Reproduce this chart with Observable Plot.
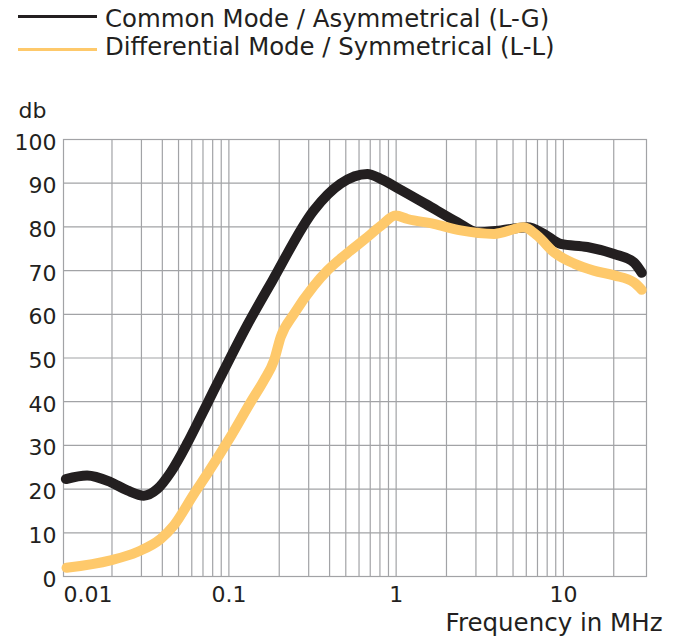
<!DOCTYPE html>
<html>
<head>
<meta charset="utf-8">
<script src="https://cdn.jsdelivr.net/npm/d3@7"></script>
<script src="https://cdn.jsdelivr.net/npm/@observablehq/plot@0.6"></script>
<style>
  html, body { margin: 0; padding: 0; background: #ffffff; }
  body { width: 680px; height: 637px; overflow: hidden; font-family: "DejaVu Sans", sans-serif; color: #231f20; }
  #legend { position: relative; height: 64px; }
  .sw { position: absolute; left: 18px; width: 79px; height: 3px; }
  .lt { position: absolute; left: 105px; font-size: 24.4px; line-height: 28px; white-space: nowrap; color: #231f20; }
  #chart svg { display: block; }
</style>
</head>
<body>
<div id="legend"></div>
<div id="chart"></div>
<script>
// ---- data ----
const seriesNames = ["Common Mode / Asymmetrical (L-G)", "Differential Mode / Symmetrical (L-L)"];
const seriesColors = ["#231f20", "#fec96b"];

const cmFreq = [0.0106, 0.0142, 0.0196, 0.0247, 0.031, 0.0373, 0.0448, 0.0564, 0.0677, 0.0813, 0.129, 0.182, 0.322, 0.466, 0.673, 0.808, 1.02, 1.61, 2.32, 3.06, 4.22, 6.09, 7.66, 9.63, 13.9, 20.1, 26.4, 29.4];
const cmDb   = [22.3, 23.1, 21.6, 19.7, 18.5, 20.0, 23.8, 30.5, 36.5, 42.6, 57.6, 67.7, 83.8, 89.9, 92.1, 91.0, 88.9, 84.6, 81.1, 78.8, 79.2, 79.9, 78.4, 76.1, 75.4, 73.8, 71.9, 69.5];

const dmFreq = [0.0107, 0.0196, 0.0283, 0.0391, 0.0469, 0.0618, 0.0743, 0.1024, 0.135, 0.162, 0.186, 0.204, 0.245, 0.322, 0.388, 0.511, 0.65, 0.808, 0.993, 1.17, 1.68, 2.43, 3.85, 5.81, 6.98, 8.79, 11.6, 15.2, 20.1, 26.4, 29.4];
const dmDb   = [2.0, 3.7, 5.6, 8.6, 11.7, 18.9, 23.5, 32.0, 39.9, 44.9, 49.4, 54.8, 60.1, 66.5, 70.0, 74.0, 77.2, 80.2, 82.6, 81.8, 80.7, 79.2, 78.4, 79.9, 78.0, 74.2, 71.6, 70.0, 68.9, 67.3, 65.6];

const xDomain = [0.01026, 31.4];
const xTicks = [0.1, 1, 10];
const xTickLabels = ["0.1", "1", "10"];
const xFirstLabel = "0.01";
const xLastLabel = "30";
const xGrid = [0.02, 0.03, 0.04, 0.05, 0.06, 0.07, 0.08, 0.09, 0.1, 0.2, 0.3, 0.4, 0.5, 0.6, 0.7, 0.8, 0.9, 1, 2, 3, 4, 5, 6, 7, 8, 9, 10, 20];
const yTicks = [0, 10, 20, 30, 40, 50, 60, 70, 80, 90, 100];
const yGrid = [10, 20, 30, 40, 50, 60, 70, 80, 90];
const yLabel = "db";
const xLabel = "Frequency in MHz";

// ---- legend ----
const legend = document.getElementById("legend");
const swTops = [14.5, 47.8];
const txtTops = [5, 32.7];
seriesNames.forEach((name, i) => {
  const sw = document.createElement("div");
  sw.className = "sw";
  sw.style.top = swTops[i] + "px";
  sw.style.background = seriesColors[i];
  legend.appendChild(sw);
  const t = document.createElement("div");
  t.className = "lt";
  t.style.top = txtTops[i] + "px";
  t.textContent = name;
  legend.appendChild(t);
});

// ---- chart ----
const cm = cmFreq.map((f, i) => ({f, db: cmDb[i]}));
const dm = dmFreq.map((f, i) => ({f, db: dmDb[i]}));
const gridColor = "#a2a3a6";
const textColor = "#231f20";

const chart = Plot.plot({
  width: 680,
  height: 573,
  marginTop: 75,
  marginBottom: 61,
  marginLeft: 63,
  marginRight: 34,
  style: {fontFamily: "DejaVu Sans, sans-serif", fontSize: "22px", color: textColor, background: "#ffffff"},
  x: {type: "log", domain: xDomain},
  y: {domain: [0, 100]},
  marks: [
    Plot.ruleX(xGrid, {stroke: gridColor, strokeWidth: 1.2}),
    Plot.ruleY(yGrid, {stroke: gridColor, strokeWidth: 1.2}),
    Plot.frame({stroke: gridColor, strokeWidth: 1.2}),
    Plot.axisY(yTicks, {tickSize: 0, tickPadding: 7, fontSize: 22, fill: textColor, label: null, dy: 3, tickFormat: d => String(d)}),
    Plot.axisX(xTicks, {tickSize: 0, tickPadding: 10, fontSize: 22, fill: textColor, label: null, tickFormat: d => xTickLabels[xTicks.indexOf(d)]}),
    Plot.axisX([xDomain[0]], {tickSize: 0, tickPadding: 10, fontSize: 22, fill: textColor, label: null, textAnchor: "start", tickFormat: () => xFirstLabel}),
    Plot.axisX([xDomain[1]], {tickSize: 0, tickPadding: 10, fontSize: 22, fill: textColor, label: null, tickFormat: () => xLastLabel}),
    Plot.line(cm, {x: "f", y: "db", stroke: seriesColors[0], strokeWidth: 10, curve: "monotone-x", strokeLinecap: "round", strokeLinejoin: "round"}),
    Plot.line(dm, {x: "f", y: "db", stroke: seriesColors[1], strokeWidth: 10, curve: "monotone-x", strokeLinecap: "round", strokeLinejoin: "round"}),
    Plot.text([yLabel], {frameAnchor: "top-left", dx: -45, dy: -22, textAnchor: "start", lineAnchor: "bottom", fontSize: 22, fill: textColor}),
    Plot.text([xLabel], {frameAnchor: "bottom-right", dx: 16, dy: 54, textAnchor: "end", lineAnchor: "bottom", fontSize: 24.5, fill: textColor})
  ]
});
document.getElementById("chart").appendChild(chart);
</script>
</body>
</html>
